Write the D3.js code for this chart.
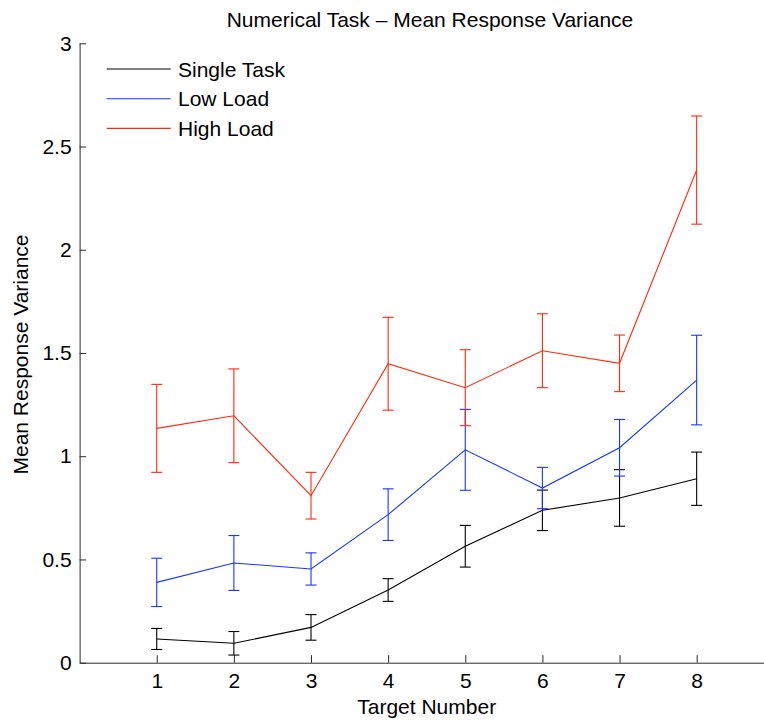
<!DOCTYPE html>
<html>
<head>
<meta charset="utf-8">
<script src="https://cdn.jsdelivr.net/npm/d3@7"></script>
<style>
  html, body { margin: 0; padding: 0; background: #fff; }
  svg { display: block; font-family: "Liberation Sans", Arial, Helvetica, sans-serif; }
</style>
</head>
<body>
<svg id="chart" width="764" height="720"></svg>
<script>
// Target numbers on the x axis
const targets = [1, 2, 3, 4, 5, 6, 7, 8];

// Mean response variance per condition, with error-bar half-widths
const singleMean = [0.115, 0.094, 0.171, 0.352, 0.564, 0.738, 0.798, 0.891];
const singleErr  = [0.051, 0.057, 0.062, 0.055, 0.101, 0.098, 0.137, 0.129];
const lowMean    = [0.389, 0.483, 0.454, 0.717, 1.031, 0.846, 1.041, 1.369];
const lowErr     = [0.117, 0.133, 0.078, 0.125, 0.196, 0.100, 0.137, 0.217];
const highMean   = [1.135, 1.196, 0.809, 1.448, 1.332, 1.511, 1.450, 2.386];
const highErr    = [0.213, 0.227, 0.113, 0.225, 0.184, 0.179, 0.137, 0.262];

const seriesNames = ["Single Task", "Low Load", "High Load"];
const seriesColors = ["#000000", "#1438ff", "#ff2a0c"];

const xTicks = [1, 2, 3, 4, 5, 6, 7, 8];
const yTicks = [0, 0.5, 1, 1.5, 2, 2.5, 3];

const series = [
  { name: seriesNames[0], color: seriesColors[0], mean: singleMean, err: singleErr },
  { name: seriesNames[1], color: seriesColors[1], mean: lowMean, err: lowErr },
  { name: seriesNames[2], color: seriesColors[2], mean: highMean, err: highErr }
];

const svg = d3.select("#chart");
const FONT = 21;

const x = d3.scaleLinear().domain([0, 9]).range([79.6, 773.8]);
const y = d3.scaleLinear().domain([0, 3]).range([662.7, 43.3]);

// Axes (ticks point inward)
const xAxis = svg.append("g")
  .attr("transform", `translate(0,${y(0)})`)
  .call(d3.axisBottom(x).tickValues(xTicks).tickSizeInner(-7.5).tickSizeOuter(0).tickPadding(18).tickFormat(d3.format("d")));
const yAxis = svg.append("g")
  .attr("transform", `translate(${x(0)},0)`)
  .call(d3.axisLeft(y).tickValues(yTicks).tickSizeInner(-6.5).tickSizeOuter(0).tickPadding(8).tickFormat(d => d));

[xAxis, yAxis].forEach(g => {
  g.select(".domain").attr("stroke", "#2a2a2a").attr("stroke-width", 1);
  g.selectAll(".tick line").attr("stroke", "#2a2a2a").attr("stroke-width", 1);
  g.selectAll(".tick text").attr("fill", "#000").attr("font-size", FONT)
    .attr("font-family", "Liberation Sans, Arial, Helvetica, sans-serif");
});
xAxis.selectAll(".tick text").attr("dy", "0.71em").attr("y", 10.5);

// Error bars and mean lines
const cap = 5.5;
const line = d3.line().x((d, i) => x(targets[i])).y(d => y(d));

series.forEach(s => {
  const g = svg.append("g").attr("stroke", s.color).attr("stroke-width", 1.1).attr("fill", "none");
  targets.forEach((t, i) => {
    const lo = y(s.mean[i] - s.err[i]);
    const hi = y(s.mean[i] + s.err[i]);
    const cx = x(t);
    g.append("line").attr("x1", cx).attr("x2", cx).attr("y1", lo).attr("y2", hi);
    g.append("line").attr("x1", cx - cap).attr("x2", cx + cap).attr("y1", lo).attr("y2", lo);
    g.append("line").attr("x1", cx - cap).attr("x2", cx + cap).attr("y1", hi).attr("y2", hi);
  });
  g.append("path").attr("d", line(s.mean));
});

// Legend
const legend = svg.append("g");
series.forEach((s, i) => {
  const ly = 69 + i * 29.7;
  legend.append("line").attr("x1", 106.7).attr("x2", 170.7).attr("y1", ly).attr("y2", ly)
    .attr("stroke", s.color).attr("stroke-width", 1.1);
  legend.append("text").attr("x", 178).attr("y", ly).attr("dy", "0.36em")
    .attr("font-size", FONT).attr("fill", "#000").text(s.name);
});

// Title and axis labels
svg.append("text").attr("x", 430).attr("y", 27).attr("text-anchor", "middle")
  .attr("font-size", FONT).attr("fill", "#000").text("Numerical Task \u2013 Mean Response Variance");
svg.append("text").attr("x", 426.7).attr("y", 714).attr("text-anchor", "middle")
  .attr("font-size", FONT).attr("fill", "#000").text("Target Number");
svg.append("text").attr("transform", "translate(28,354.5) rotate(-90)").attr("text-anchor", "middle")
  .attr("font-size", FONT).attr("fill", "#000").text("Mean Response Variance");
</script>
</body>
</html>
